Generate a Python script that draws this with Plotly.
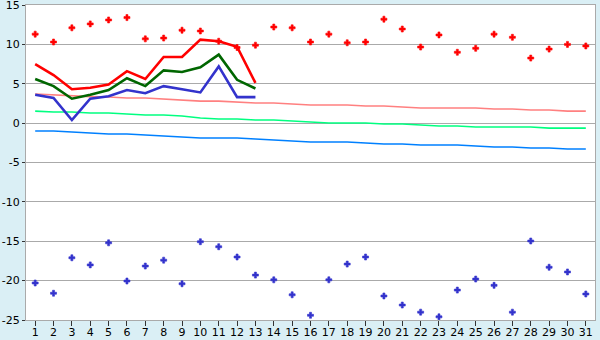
import plotly.graph_objects as go

days = list(range(1, 32))

# daily observed (days 1-13)
obs_days = list(range(1, 14))
obs_max = [7.5, 6.1, 4.3, 4.5, 4.9, 6.6, 5.6, 8.4, 8.4, 10.6, 10.4, 9.7, 5.1]
obs_mean = [5.6, 4.7, 3.1, 3.6, 4.2, 5.7, 4.7, 6.7, 6.5, 7.1, 8.7, 5.5, 4.4]
obs_min = [3.6, 3.2, 0.4, 3.1, 3.4, 4.2, 3.8, 4.7, 4.3, 3.9, 7.2, 3.3, 3.3]

# normals
norm_max = [3.7, 3.57, 3.44, 3.37, 3.31, 3.19, 3.19, 3.06, 2.93, 2.8, 2.8, 2.68, 2.55, 2.55, 2.42,
            2.3, 2.3, 2.3, 2.17, 2.17, 2.04, 1.92, 1.92, 1.92, 1.92, 1.79, 1.79, 1.66, 1.66, 1.53, 1.53]
norm_mean = [1.53, 1.41, 1.41, 1.28, 1.28, 1.15, 1.03, 1.03, 0.9, 0.65, 0.52, 0.52, 0.39, 0.39, 0.27,
             0.14, 0.01, 0.01, 0.01, -0.11, -0.11, -0.24, -0.37, -0.37, -0.5, -0.5, -0.5, -0.5, -0.63, -0.63, -0.63]
norm_min = [-1.0, -1.0, -1.13, -1.26, -1.38, -1.38, -1.51, -1.64, -1.77, -1.89, -1.89, -1.89, -2.02, -2.15, -2.27,
            -2.4, -2.4, -2.4, -2.53, -2.65, -2.65, -2.78, -2.78, -2.78, -2.91, -3.03, -3.03, -3.16, -3.16, -3.29, -3.29]

# records
rec_max = [11.3, 10.3, 12.1, 12.6, 13.1, 13.4, 10.7, 10.8, 11.8, 11.7, 10.4, 9.6, 9.9, 12.2, 12.1,
           10.3, 11.3, 10.2, 10.3, 13.2, 11.95, 9.66, 11.2, 9.0, 9.5, 11.3, 10.9, 8.26, 9.4, 10.0, 9.8]
rec_min = [-20.3, -21.6, -17.1, -18.0, -15.2, -20.05, -18.15, -17.4, -20.4, -15.06, -15.7, -17.0, -19.3, -19.9, -21.8,
           -24.4, -19.9, -17.9, -17.0, -21.95, -23.1, -24.0, -24.6, -21.2, -19.8, -20.6, -24.0, -14.97, -18.3, -18.9, -21.7]

y_ticks = [-25, -20, -15, -10, -5, 0, 5, 10, 15]
y_ticktext = ["-25", "-20", "-15", "-10", "-5", "0", "5", "10", "15"]

fig = go.Figure()

fig.add_trace(go.Scatter(x=days, y=norm_max, mode="lines", line=dict(color="#ff8080", width=1.6)))
fig.add_trace(go.Scatter(x=days, y=norm_mean, mode="lines", line=dict(color="#00ff80", width=1.6)))
fig.add_trace(go.Scatter(x=days, y=norm_min, mode="lines", line=dict(color="#0080ff", width=1.6)))

fig.add_trace(go.Scatter(x=obs_days, y=obs_min, mode="lines", line=dict(color="#3333cc", width=2.6)))
fig.add_trace(go.Scatter(x=obs_days, y=obs_mean, mode="lines", line=dict(color="#006600", width=2.6)))
fig.add_trace(go.Scatter(x=obs_days, y=obs_max, mode="lines", line=dict(color="#ff0000", width=2.6)))

fig.add_trace(go.Scatter(x=days, y=rec_max, mode="markers",
                         marker=dict(symbol="cross", size=5, color="#ff0000",
                                     line=dict(width=0.6, color="#ff0000"))))
fig.add_trace(go.Scatter(x=days, y=rec_min, mode="markers",
                         marker=dict(symbol="cross", size=5, color="#3333cc",
                                     line=dict(width=0.6, color="#3333cc"))))

fig.update_layout(
    width=600, height=340,
    margin=dict(l=26, r=5, t=5, b=20, autoexpand=False),
    paper_bgcolor="#daeff5",
    plot_bgcolor="#ffffff",
    showlegend=False,
    font=dict(family="DejaVu Sans", size=11, color="#000000"),
)
fig.update_xaxes(
    range=[0.5, 31.5], tickmode="array", tickvals=days, ticktext=[str(d) for d in days],
    showgrid=False, zeroline=False,
    showline=True, linecolor="#aaaaaa", linewidth=1, mirror=True,
    ticks="outside", ticklen=5, tickcolor="#333333", tickwidth=1,
    ticklabeloverflow="allow", automargin=False, ticklabelstandoff=-3,
)
fig.update_yaxes(
    range=[-25, 15], tickmode="array", tickvals=y_ticks, ticktext=y_ticktext,
    showgrid=True, gridcolor="#aaaaaa", gridwidth=1,
    zeroline=True, zerolinecolor="#aaaaaa", zerolinewidth=1,
    showline=True, linecolor="#aaaaaa", linewidth=1, mirror=True,
    ticks="outside", ticklen=3, tickcolor="#333333", tickwidth=1,
    ticklabeloverflow="allow", automargin=False,
)

fig.write_html("out.html")
